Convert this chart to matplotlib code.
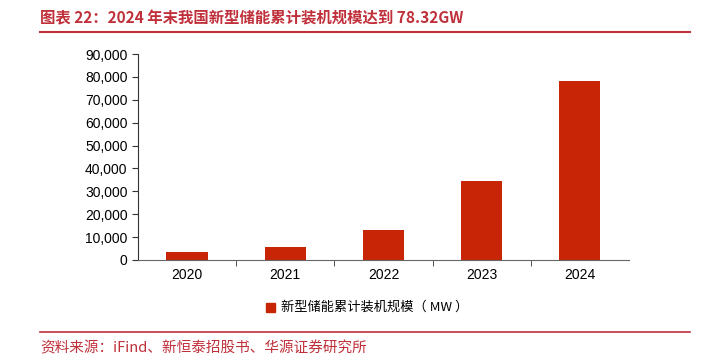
import matplotlib.pyplot as plt
from matplotlib.patches import Rectangle
from matplotlib.ticker import FuncFormatter

plt.rcParams['font.family'] = ['Liberation Sans', 'Noto Sans CJK SC', 'DejaVu Sans']

years = ['2020', '2021', '2022', '2023', '2024']
capacity = [3280, 5730, 13100, 34500, 78300]
series_name = '新型储能累计装机规模（ MW ）'
title = '图表 22：2024 年末我国新型储能累计装机规模达到 78.32GW'
source = '资料来源：iFind、新恒泰招股书、华源证券研究所'

bar_color = '#C82506'
red = '#C0303A'
cjk = ['Noto Sans CJK SC', 'DejaVu Sans']

fig = plt.figure(figsize=(7.03, 3.62), dpi=100)
ax = fig.add_axes([0.1963, 0.2818, 0.6984, 0.569])

x = range(len(years))
ax.bar(x, capacity, width=0.42, color=bar_color)
ax.set_xlim(-0.5, len(years) - 0.5)
ax.set_ylim(0, 90000)
ax.set_yticks(range(0, 90001, 10000))
ax.yaxis.set_major_formatter(FuncFormatter(lambda v, p: f'{int(v):,}'))
ax.set_xticks(list(x))
ax.set_xticklabels(years)
ax.set_xticks([i + 0.5 for i in range(len(years) - 1)], minor=True)
ax.tick_params(axis='x', which='major', length=0, pad=6, labelsize=10)
ax.tick_params(axis='x', which='minor', length=4, direction='out', color='#333333')
ax.tick_params(axis='y', length=4, labelsize=10, color='#333333')
for s in ['top', 'right']:
    ax.spines[s].set_visible(False)
ax.spines['left'].set_color('#333333')
ax.spines['bottom'].set_color('#666666')

# legend
fig.patches.append(Rectangle((266 / 703, 1 - 312 / 362), 9 / 703, 9 / 362,
                             transform=fig.transFigure, color=bar_color))
fig.text(281 / 703, 1 - 307 / 362, series_name, fontsize=9.5, va='center', ha='left',
         family=cjk)

# title and source
fig.text(40 / 703, 1 - 18 / 362, title, fontsize=11.1, color=red, va='center',
         ha='left', fontweight='semibold', family=cjk)
fig.add_artist(plt.Line2D([40 / 703, 690 / 703], [1 - 32 / 362] * 2,
                          color=red, lw=1.5, transform=fig.transFigure))
fig.add_artist(plt.Line2D([40 / 703, 690 / 703], [1 - 332 / 362] * 2,
                          color=red, lw=1.2, transform=fig.transFigure))
fig.text(40 / 703, 1 - 348 / 362, source, fontsize=10.5, color=red, va='center',
         ha='left', family=cjk)

fig.savefig('out.png', dpi=100)
